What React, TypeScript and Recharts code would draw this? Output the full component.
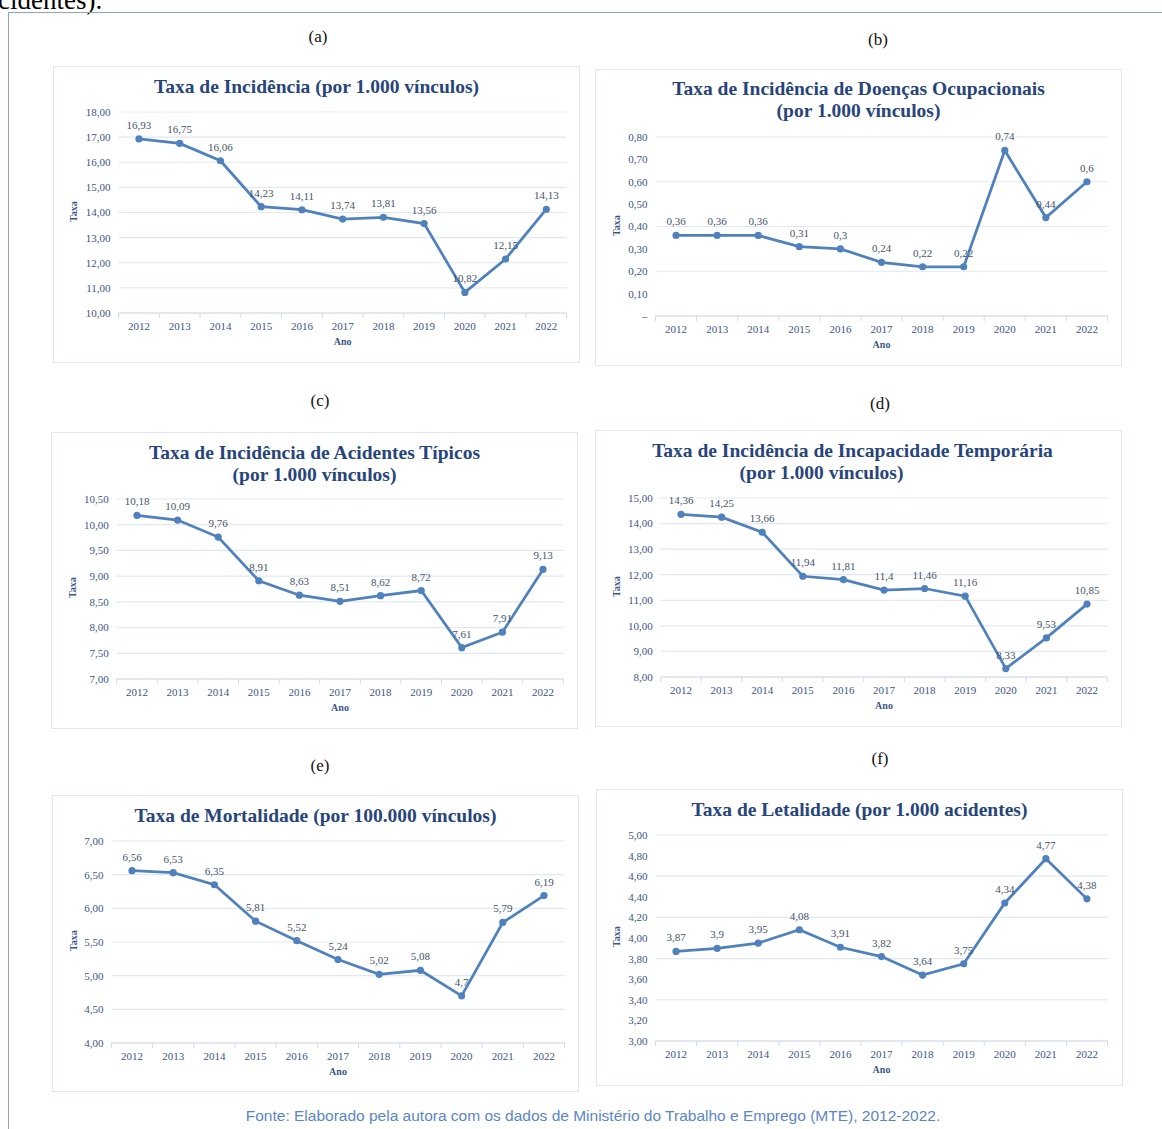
import { LineChart, Line, XAxis, YAxis, CartesianGrid, LabelList } from 'recharts';

const years = ['2012', '2013', '2014', '2015', '2016', '2017', '2018', '2019', '2020', '2021', '2022'];

const incidencia = [16.93, 16.75, 16.06, 14.23, 14.11, 13.74, 13.81, 13.56, 10.82, 12.15, 14.13];
const doencas = [0.36, 0.36, 0.36, 0.31, 0.3, 0.24, 0.22, 0.22, 0.74, 0.44, 0.6];
const tipicos = [10.18, 10.09, 9.76, 8.91, 8.63, 8.51, 8.62, 8.72, 7.61, 7.91, 9.13];
const incapacidade = [14.36, 14.25, 13.66, 11.94, 11.81, 11.4, 11.46, 11.16, 8.33, 9.53, 10.85];
const mortalidade = [6.56, 6.53, 6.35, 5.81, 5.52, 5.24, 5.02, 5.08, 4.7, 5.79, 6.19];
const letalidade = [3.87, 3.9, 3.95, 4.08, 3.91, 3.82, 3.64, 3.75, 4.34, 4.77, 4.38];

const ticksA = [10, 11, 12, 13, 14, 15, 16, 17, 18];
const ticksB = [0, 0.1, 0.2, 0.3, 0.4, 0.5, 0.6, 0.7, 0.8];
const ticksC = [7, 7.5, 8, 8.5, 9, 9.5, 10, 10.5];
const ticksD = [8, 9, 10, 11, 12, 13, 14, 15];
const ticksE = [4, 4.5, 5, 5.5, 6, 6.5, 7];
const ticksF = [3, 3.2, 3.4, 3.6, 3.8, 4, 4.2, 4.4, 4.6, 4.8, 5];

const BLUE = '#4f81bd';
const TITLE = '#27457a';
const TICK = '#3b5687';
const LABEL = '#44546a';
const GRID = '#e1e8f2';
const AXIS = '#d3dbe8';
const SERIF = '"Liberation Serif", "Times New Roman", serif';

const W = 525;
const H = 295;

type PanelProps = {
  letter: string;
  letterPos: [number, number];
  title: string[];
  titleY: number[];
  titleShift?: number[];
  values: number[];
  ticks: number[];
  box: [number, number];
  plot: [number, number, number, number]; // left, right, top, bottom (page coords)
  taxaX: number;
  dashZero?: boolean;
};

const fmtTick = (v: number, dashZero?: boolean) =>
  dashZero && v === 0 ? '–' : v.toFixed(2).replace('.', ',');
const fmtLabel = (v: any) => String(v).replace('.', ',');

function Panel(p: PanelProps) {
  const [bx, by] = p.box;
  const [pl, pr, pt, pb] = p.plot;
  const L = pl - bx;
  const R = pr - bx;
  const T = pt - by;
  const B = pb - by;
  const step = (R - L) / years.length;
  const data = years.map((y, i) => ({ year: y, v: p.values[i] }));
  const cx = (pl + pr) / 2;

  // year label plus the little tick marks between categories
  const YearTick = (props: any) => {
    const { x, payload, index } = props;
    return (
      <g>
        {index === 0 && <line x1={x - step / 2} x2={x - step / 2} y1={B} y2={B + 5} stroke={AXIS} />}
        <line x1={x + step / 2} x2={x + step / 2} y1={B} y2={B + 5} stroke={AXIS} />
        <text x={x} y={B + 17} textAnchor="middle" fill={TICK} fontSize={11} fontFamily={SERIF}>
          {payload.value}
        </text>
      </g>
    );
  };

  return (
    <>
      <div
        style={{
          position: 'absolute', left: p.letterPos[0] - 40, top: p.letterPos[1] - 11, width: 80,
          textAlign: 'center', fontFamily: SERIF, fontSize: 17, color: '#111',
        }}
      >
        {p.letter}
      </div>
      <div
        style={{
          position: 'absolute', left: bx, top: by, width: W, height: H,
          outline: '1px solid #e2e7ee', background: '#fff',
        }}
      >
        <LineChart width={W} height={H} data={data} margin={{ top: T, right: W - R, bottom: 0, left: 0 }}>
          <CartesianGrid vertical={false} stroke={GRID} strokeWidth={1.2} />
          <XAxis
            dataKey="year"
            height={H - B}
            padding={{ left: step / 2, right: step / 2 }}
            axisLine={{ stroke: AXIS }}
            tickLine={false}
            tick={<YearTick />}
            interval={0}
          />
          <YAxis
            width={L}
            domain={[p.ticks[0], p.ticks[p.ticks.length - 1]]}
            ticks={p.ticks}
            axisLine={false}
            tickLine={false}
            tick={{ fill: TICK, fontSize: 11, fontFamily: SERIF }}
            tickFormatter={(v: number) => fmtTick(v, p.dashZero)}
          />
          <Line
            type="linear"
            dataKey="v"
            stroke={BLUE}
            strokeWidth={2.75}
            dot={{ r: 3.6, fill: BLUE, stroke: BLUE, strokeWidth: 0 }}
            isAnimationActive={false}
          >
            <LabelList
              dataKey="v"
              position="top"
              offset={10}
              formatter={fmtLabel}
              style={{ fill: LABEL, fontSize: 11, fontFamily: SERIF }}
            />
          </Line>
        </LineChart>
      </div>
      {p.title.map((t, i) => (
        <div
          key={i}
          style={{
            position: 'absolute', left: bx + (p.titleShift ? p.titleShift[i] : 0), top: p.titleY[i] - 12,
            width: W, textAlign: 'center',
            fontFamily: SERIF, fontWeight: 700, fontSize: 19.5, color: TITLE, whiteSpace: 'nowrap',
          }}
        >
          {t}
        </div>
      ))}
      <div
        style={{
          position: 'absolute', left: cx - 30, top: pb + 23, width: 60, textAlign: 'center',
          fontFamily: SERIF, fontWeight: 700, fontSize: 10, color: TICK,
        }}
      >
        Ano
      </div>
      <div
        style={{
          position: 'absolute', left: p.taxaX - 30, top: (pt + pb) / 2 - 7, width: 60, textAlign: 'center',
          fontFamily: SERIF, fontWeight: 700, fontSize: 10, color: TICK, transform: 'rotate(-90deg)',
        }}
      >
        Taxa
      </div>
    </>
  );
}

export default function App() {
  return (
    <div style={{ position: 'absolute', left: 0, top: 0, width: 1162, height: 1129, overflow: 'hidden', background: '#fff' }}>
      <div style={{ position: 'absolute', left: -14, top: -15, fontFamily: SERIF, fontSize: 27, color: '#000', lineHeight: '30px' }}>
        acidentes).
      </div>
      <div style={{ position: 'absolute', left: 8, top: 12, width: 1, height: 1117, background: '#8ea3c8' }} />
      <div style={{ position: 'absolute', left: 8, top: 12, width: 1154, height: 1, background: '#8ea3c8' }} />

      <Panel
        letter="(a)" letterPos={[318, 38]}
        title={['Taxa de Incidência (por 1.000 vínculos)']} titleY={[88]}
        values={incidencia} ticks={ticksA}
        box={[54, 67]} plot={[118.6, 566.7, 112, 313]} taxaX={73}
      />
      <Panel
        letter="(b)" letterPos={[878, 41]}
        title={['Taxa de Incidência de Doenças Ocupacionais', '(por 1.000 vínculos)']} titleY={[90, 112]}
        values={doencas} ticks={ticksB}
        box={[596, 70]} plot={[655.5, 1107.5, 137, 316]} taxaX={616} dashZero
      />
      <Panel
        letter="(c)" letterPos={[320, 402]}
        title={['Taxa de Incidência de Acidentes Típicos', '(por 1.000 vínculos)']} titleY={[454, 476]}
        values={tipicos} ticks={ticksC}
        box={[52, 433]} plot={[116.7, 563.3, 499, 679]} taxaX={72}
      />
      <Panel
        letter="(d)" letterPos={[880, 405]}
        title={['Taxa de Incidência de Incapacidade Temporária', '(por 1.000 vínculos)']} titleY={[452, 474]}
        titleShift={[-6, -37]}
        values={incapacidade} ticks={ticksD}
        box={[596, 431]} plot={[660.7, 1107.3, 498, 677]} taxaX={616}
      />
      <Panel
        letter="(e)" letterPos={[320, 767]}
        title={['Taxa de Mortalidade (por 100.000 vínculos)']} titleY={[817]}
        values={mortalidade} ticks={ticksE}
        box={[53, 796]} plot={[111.4, 564.6, 841, 1043]} taxaX={73}
      />
      <Panel
        letter="(f)" letterPos={[880, 760]}
        title={['Taxa de Letalidade (por 1.000 acidentes)']} titleY={[811]}
        values={letalidade} ticks={ticksF}
        box={[597, 790]} plot={[655.5, 1107.5, 835, 1041]} taxaX={616}
      />

      <div
        style={{
          position: 'absolute', left: 0, top: 1107, width: 1186, textAlign: 'center',
          fontFamily: '"Liberation Sans Narrow", "Liberation Sans", sans-serif', fontSize: 15.5, color: '#5b86c5',
        }}
      >
        Fonte: Elaborado pela autora com os dados de Ministério do Trabalho e Emprego (MTE), 2012-2022.
      </div>
    </div>
  );
}
